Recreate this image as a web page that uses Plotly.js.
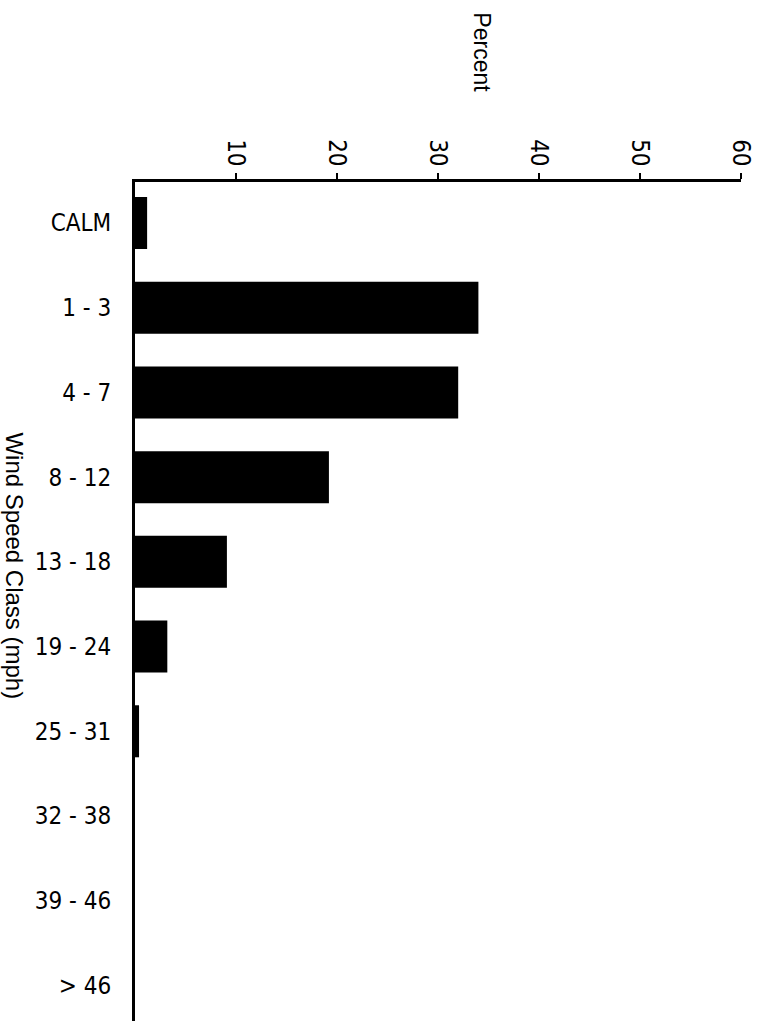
<!DOCTYPE html>
<html>
<head>
<meta charset="utf-8">
<script src="https://cdn.plot.ly/plotly-3.0.1.min.js"></script>
<style>html,body{margin:0;padding:0;background:#fff;}#chart{width:763px;height:1021px;}</style>
</head>
<body>
<div id="chart"></div>
<script>
const windClasses = ["CALM", "1 - 3", "4 - 7", "8 - 12", "13 - 18", "19 - 24", "25 - 31", "32 - 38", "39 - 46", "> 46"];
const percentValues = [1.2, 34.0, 32.0, 19.2, 9.1, 3.2, 0.4, 0, 0, 0];
const percentTicks = [10, 20, 30, 40, 50, 60];
const percentTickLabels = ["10", "20", "30", "40", "50", "60"];

const narrow = "DejaVu Sans Condensed, Liberation Sans Narrow, Arial Narrow, sans-serif";
const regular = "Liberation Sans, Arial, sans-serif";

const trace = {
  type: "bar",
  orientation: "h",
  x: percentValues,
  y: windClasses,
  marker: {color: "#000", line: {width: 0}},
  hoverinfo: "skip"
};

const layout = {
  width: 763, height: 1021,
  margin: {l: 135, r: 22, t: 182, b: 0, pad: 0},
  paper_bgcolor: "#fff", plot_bgcolor: "#fff",
  showlegend: false,
  bargap: 0.386,
  xaxis: {
    side: "top",
    range: [0, 60],
    tickvals: percentTicks,
    ticktext: percentTickLabels,
    tickangle: 90,
    ticks: "outside", ticklen: 6, tickwidth: 2, tickcolor: "#000",
    ticklabelstandoff: -2,
    showline: true, linewidth: 3, linecolor: "#000",
    showgrid: false, zeroline: false,
    tickfont: {family: narrow, size: 24, color: "#000"}
  },
  yaxis: {
    type: "category",
    categoryorder: "array", categoryarray: windClasses,
    range: [9.42, -0.484],
    ticks: "", showline: true, linewidth: 3, linecolor: "#000",
    showgrid: false, zeroline: false,
    ticklabelstandoff: 16,
    tickfont: {family: narrow, size: 24, color: "#000"}
  },
  annotations: [
    {text: "Percent", xref: "paper", yref: "paper", x: 0.572, y: 1, yshift: 130,
     showarrow: false, textangle: 90, xanchor: "center", yanchor: "middle",
     font: {family: regular, size: 23, color: "#000"}},
    {text: "Wind Speed Class (mph)", xref: "paper", yref: "paper", x: 0, xshift: -120, y: 0.543,
     showarrow: false, textangle: 90, xanchor: "center", yanchor: "middle",
     font: {family: regular, size: 24, color: "#000"}}
  ]
};

Plotly.newPlot("chart", [trace], layout, {staticPlot: true, displayModeBar: false});
</script>
</body>
</html>
